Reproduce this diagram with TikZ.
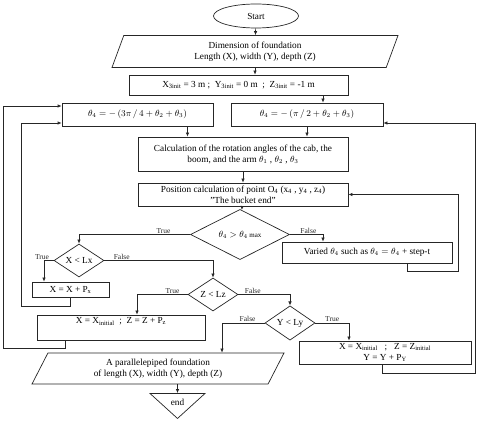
\documentclass[tikz,border=0pt]{standalone}
\usepackage{fontspec}
\setmainfont{Liberation Serif}
\usetikzlibrary{positioning,arrows.meta,shapes.geometric,calc}

\begin{document}
\begin{tikzpicture}[
    x=1pt, y=-1pt, font=\fontsize{9.25}{11}\selectfont,
    box/.style={draw=black!85, line width=0.7pt, fill=white, inner sep=2pt, align=center},
    io/.style={box, trapezium, trapezium stretches body},
    cond/.style={box, diamond, inner sep=0pt},
    lbl/.style={font=\fontsize{7.5}{8}\selectfont, above, inner sep=1pt},
    d/.style={-{Latex[length=4pt,width=3.5pt]}, black!85, line width=0.7pt},
]
  \useasboundingbox (0,0) rectangle (480,427);
  \node[box, ellipse, minimum width=85pt, minimum height=24pt] (start) at (256,16) {Start};
  \node[io, trapezium left angle=63.4, trapezium right angle=116.6, minimum width=286pt, minimum height=32pt] (dim) at (255,51.5) {Dimension of foundation\\Length (X), width (Y), depth (Z)};
  \node[box, minimum width=219pt, minimum height=20pt] (init) at (238.5,85) {X\textsubscript{3init} = 3 m ;\ \ Y\textsubscript{3init} = 0 m\ \ ;\ \ Z\textsubscript{3init} = -1 m};
  \node[box, minimum width=151pt, minimum height=23pt] (thL) at (137.5,114.5) {$\theta_4 = -\,(3\pi\,/\,4 + \theta_2 + \theta_3)$};
  \node[box, minimum width=152pt, minimum height=23pt] (thR) at (307,114.5) {$\theta_4 = -\,(\pi\,/\,2 + \theta_2 + \theta_3)$};
  \node[box, minimum width=210pt, minimum height=34pt] (calc) at (243,154) {Calculation of the rotation angles of the cab, the\\boom, and the arm $\theta_1$ , $\theta_2$ , $\theta_3$};
  \node[box, minimum width=210pt, minimum height=23pt, inner sep=1pt] (pos) at (243,194.5) {Position calculation of point O\textsubscript{4} (x\textsubscript{4} , y\textsubscript{4} , z\textsubscript{4})\\''The bucket end''};
  \node[cond, minimum width=99pt, minimum height=33pt] (dmax) at (240,234.5) {$\theta_4 > \theta_4$\,{\scriptsize max}};
  \node[box, minimum width=170pt, minimum height=21pt] (vary) at (367,252.5) {Varied $\theta_4$\ such as $\theta_4 = \theta_4$ + step-t};
  \node[cond, minimum width=50pt, minimum height=33pt] (dx) at (79,260.5) {X < Lx};
  \node[box, minimum width=77pt, minimum height=15pt] (xinc) at (70.5,289.5) {X = X + P\textsubscript{x}};
  \node[cond, minimum width=50pt, minimum height=33pt] (dz) at (213,294.5) {Z < Lz};
  \node[box, minimum width=168pt, text height=7pt, text depth=14pt] (zinc) at (121,327.5) {X = X\textsubscript{initial}\ \ ;\ \ Z = Z + P\textsubscript{z}};
  \node[cond, minimum width=50pt, minimum height=34pt] (dy) at (290,323) {Y < Ly};
  \node[box, minimum width=172pt, minimum height=23pt, inner sep=1pt] (yinc) at (385,352.5) {X = X\textsubscript{initial}\ \ \ ;\ \ \ Z = Z\textsubscript{initial}\\Y = Y + P\textsubscript{Y}};
  \node[io, trapezium left angle=55.9, trapezium right angle=124.1, minimum width=252pt, minimum height=31pt] (res) at (158,368.5) {A parallelepiped foundation\\of length (X), width (Y), depth (Z)};
  \node[box, isosceles triangle, isosceles triangle apex angle=95.5, isosceles triangle stretches, shape border rotate=270, minimum width=55pt, minimum height=25pt, inner sep=0pt] (fin) at (177.5,402) {end};
  % connectors
  \draw[d] (start) -- (dim);
  \draw[d] (dim.south) -- (dim.south |- init.north);
  \draw[d] ([xshift=16pt]thR.north |- init.south) -- ([xshift=16pt]thR.north);
  \draw[d] ([xshift=50pt]thL.south) -- ([xshift=50pt]thL.south |- calc.north);
  \draw[d] (thR.south) -- (thR.south |- calc.north);
  \draw[d] (calc) -- (pos);
  \draw[d] (pos) -- (dmax);
  \draw[d] (dmax.west) -| node[lbl, pos=0.12] {True} (dx.north);
  \draw[d] (dmax.east) -| node[lbl, pos=0.28] {False} ([xshift=-44pt]vary.north);
  \coordinate (c1) at (458,271);
  \draw[d] ([xshift=40pt]vary.south) |- (c1) |- (pos.east);
  \draw[d] (dx.west) -| node[lbl, pos=0.5, xshift=-2pt] {True} ([xshift=-26.5pt]xinc.north);
  \draw[d] (dx.east) -| node[lbl, pos=0.08] {False} (dz.north);
  \coordinate (c2) at (21,306);
  \draw[d] (xinc.south) |- (c2) |- ([yshift=-8.5pt]thL.west);
  \draw[d] (dz.west) -| node[lbl, pos=0.15] {True} ([xshift=16pt]zinc.north);
  \draw[d] (dz.east) -| node[lbl, pos=0.14] {False} (dy.north);
  \coordinate (c3) at (3,348);
  \draw[d] ([xshift=-56pt]zinc.south) |- (c3) |- ([yshift=8.5pt]thL.west);
  \draw[d] (dy.west) -| node[lbl, pos=0.2] {False} ([xshift=64pt]res.north);
  \draw[d] (dy.east) -| node[lbl, pos=0.25] {True} ([xshift=-36pt]yinc.north);
  \coordinate (c4) at (475,373);
  \draw[d] ([xshift=-3pt]yinc.south) |- (c4) |- ([yshift=-8.5pt]thR.east);
  \draw[d] (res.south -| fin.north) -- (fin.north);
\end{tikzpicture}
\end{document}
